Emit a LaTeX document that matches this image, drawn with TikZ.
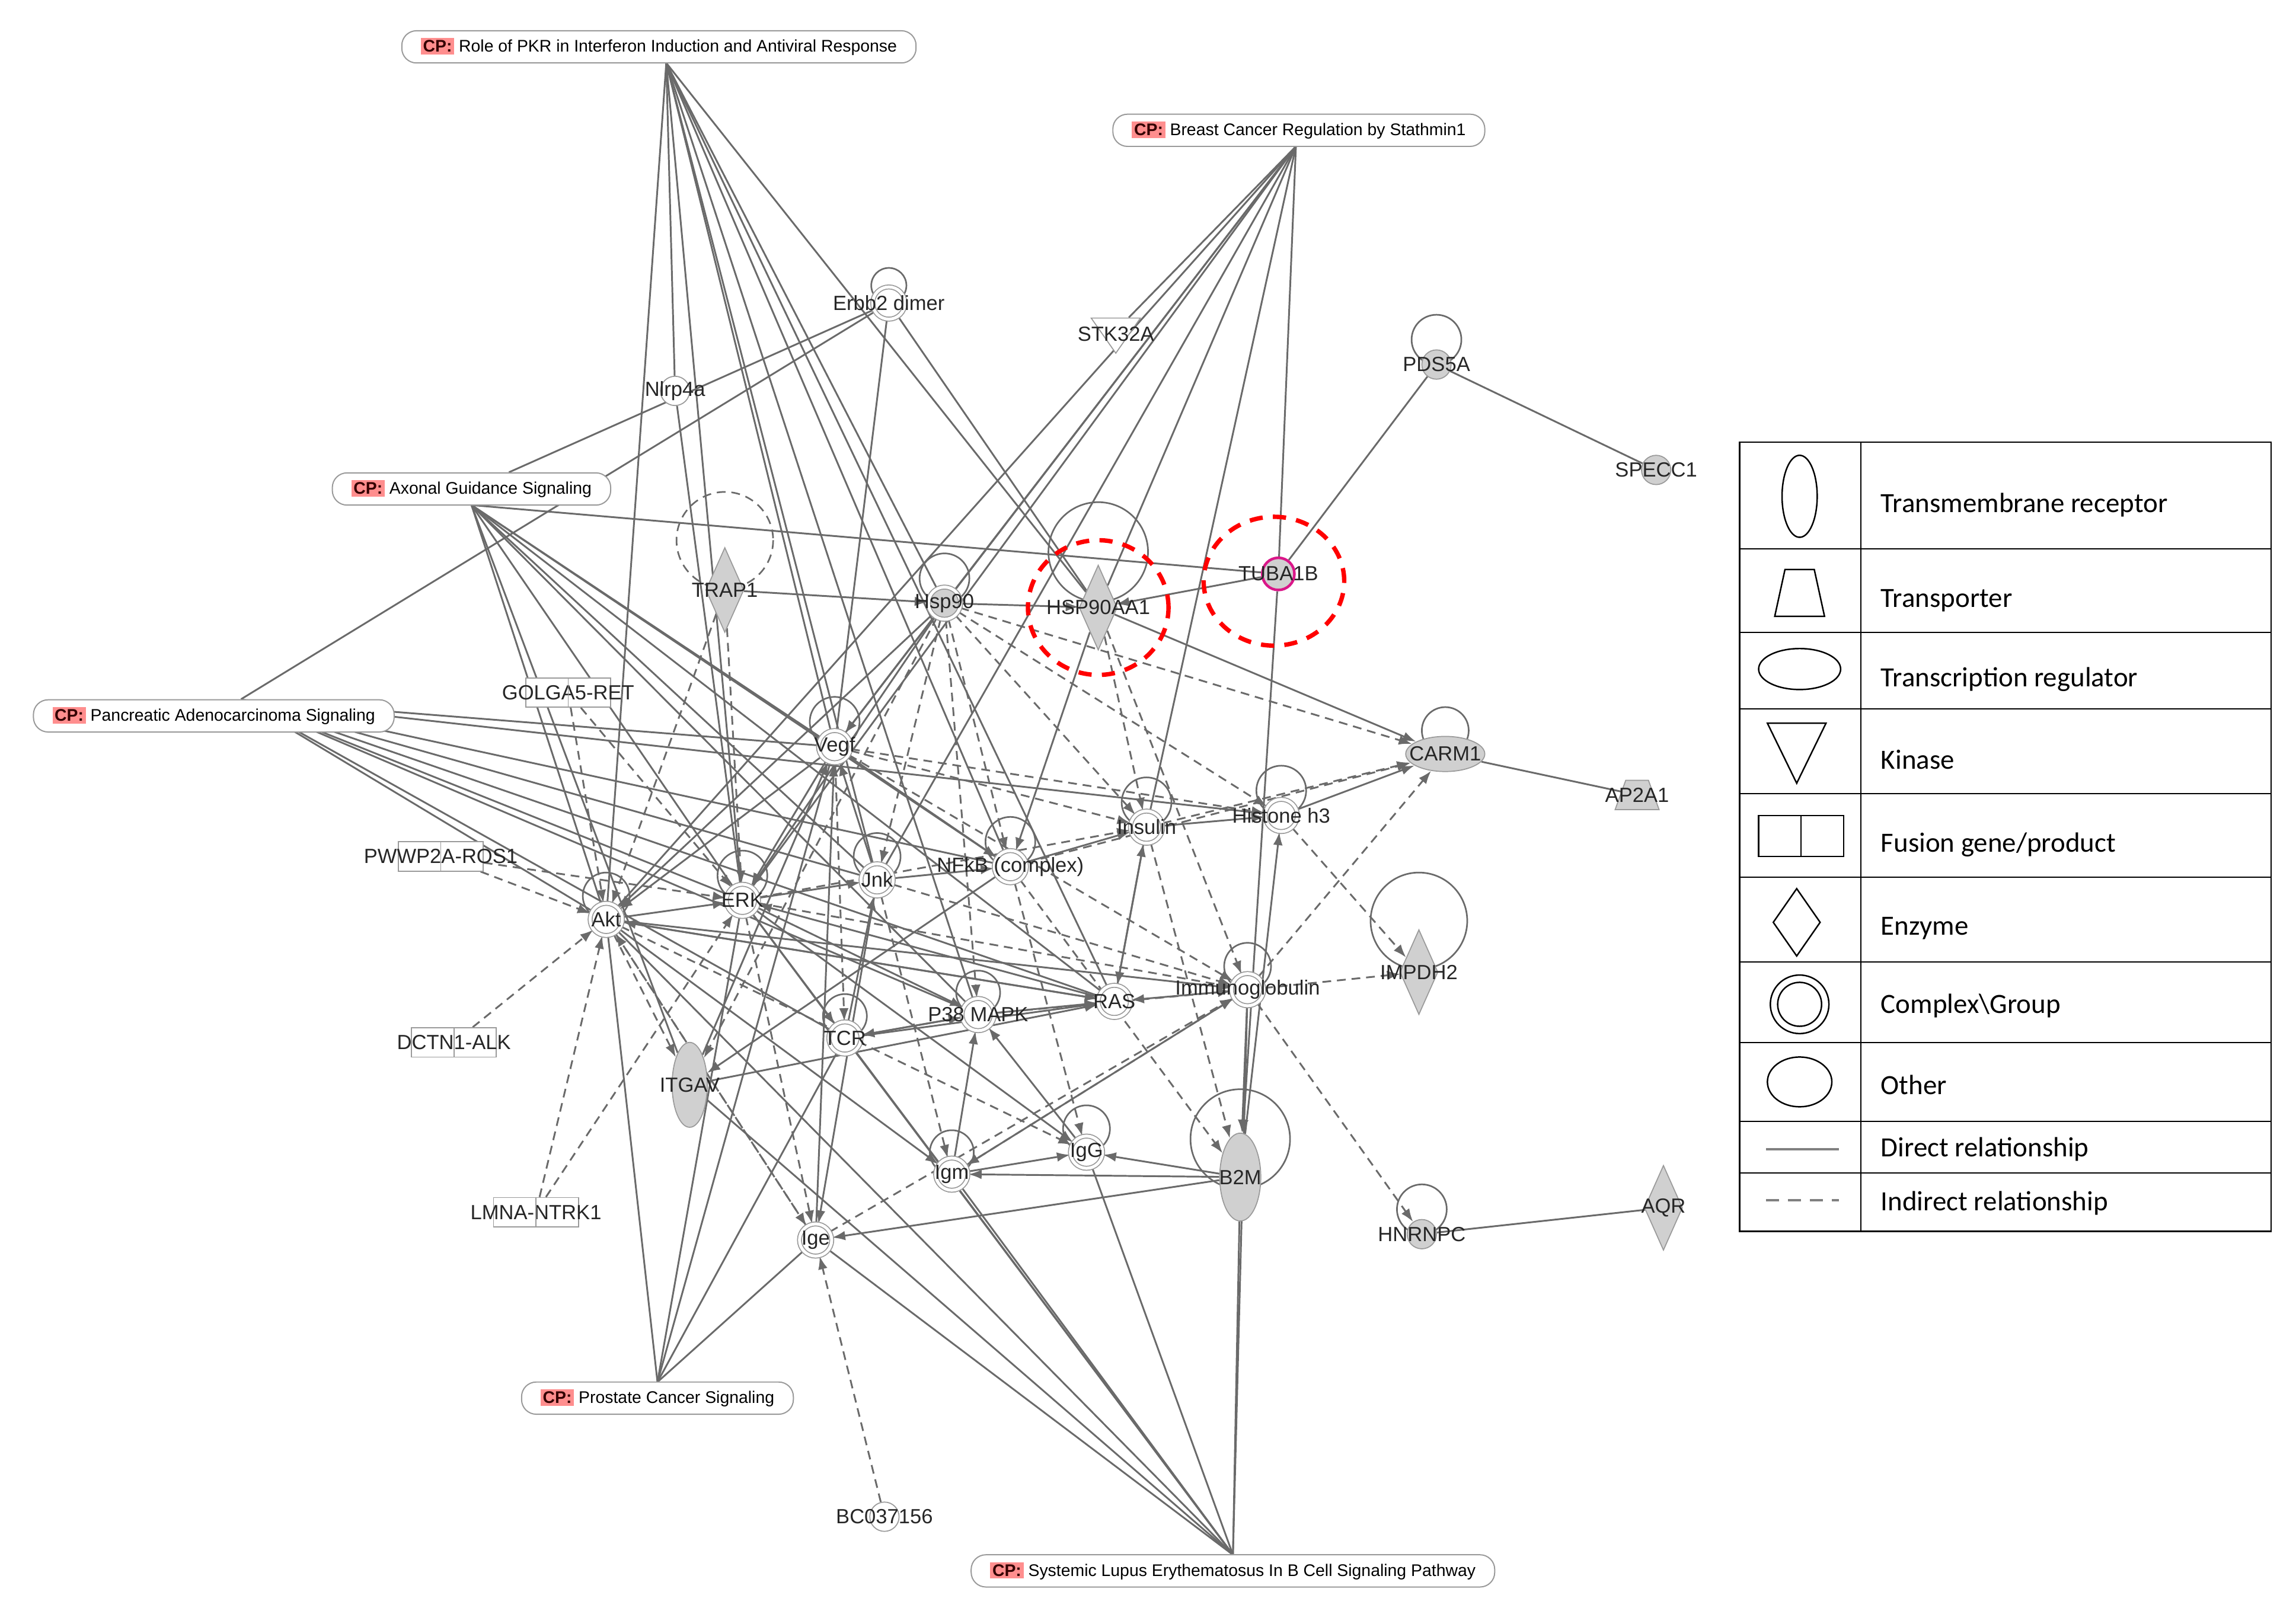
\documentclass[tikz,border=0pt]{standalone}
\usepackage{fontspec}
\setmainfont{Liberation Sans}
\newfontfamily\legf{Carlito}
\usetikzlibrary{shapes.geometric,arrows.meta}
\pgfdeclarelayer{bg}\pgfsetlayers{bg,main}
\definecolor{ec}{HTML}{6A6A6A}
\definecolor{nb}{HTML}{9A9A9A}
\definecolor{gf}{HTML}{D0D0D0}
\definecolor{cpred}{HTML}{FF8E8E}
\newcommand{\cpt}{{\setlength{\fboxsep}{1.5pt}\colorbox{cpred}{\textcolor{black!80!red}{\bfseries CP:}}}\ }
\begin{document}
\begin{tikzpicture}[x=1pt,y=-1pt,
 e/.style={draw=ec,line width=1.2pt},
 d/.style={e,dash pattern=on 6pt off 4pt},
 a/.style={-{Latex[length=9pt,width=6.5pt]}},
 every label/.style={font=\fontsize{14}{14}\selectfont,inner sep=0pt,text=black!85},
 cx/.style={circle,minimum size=22pt,inner sep=0,draw=nb,double=white,double distance=2pt,line width=0.7pt,fill=white},
 gcx/.style={cx,fill=gf},
 oth/.style={circle,minimum size=20pt,inner sep=0,draw=nb,line width=0.7pt,fill=white},
 goth/.style={oth,fill=gf},
 dia/.style={diamond,minimum width=26pt,minimum height=58pt,inner sep=0,draw=nb,fill=gf,line width=0.7pt},
 el/.style={ellipse,inner sep=0,draw=nb,fill=gf,line width=0.7pt},
 fus/.style={rectangle,minimum width=58pt,minimum height=20pt,inner sep=0,draw=nb,fill=white,line width=0.7pt},
 cp/.style={rectangle,rounded corners=10pt,draw=nb,fill=white,line width=0.8pt,minimum height=22pt,inner xsep=13pt,font=\fontsize{11.5}{11.5}\selectfont},
 red/.style={draw=red,line width=3pt,dash pattern=on 9pt off 7pt},
 loop/.style={draw=ec,line width=1.1pt}
]
\useasboundingbox (0,0) rectangle (1568,1098);
% CP nodes
\node[cp] (CP1) at (450,32) {\cpt Role of PKR in Interferon Induction and Antiviral Response};
\node[cp] (CP2) at (887,89) {\cpt Breast Cancer Regulation by Stathmin1};
\node[cp] (CP3) at (322,334) {\cpt Axonal Guidance Signaling};
\node[cp] (CP4) at (146,489) {\cpt Pancreatic Adenocarcinoma Signaling};
\node[cp] (CP5) at (449,955) {\cpt Prostate Cancer Signaling};
\node[cp] (CP6) at (842,1073) {\cpt Systemic Lupus Erythematosus In B Cell Signaling Pathway};
\coordinate (c1) at (455,43);
\coordinate (c2) at (885,100);
\coordinate (c3) at (322,345);
\coordinate (c4) at (165,478);
\coordinate (c5) at (449,944);
\coordinate (c6) at (842,1062);
% molecules
\node[cx,label={center:Erbb2 dimer}] (erbb) at (607,207) {};
\node[oth,label={center:Nlrp4a}] (nlrp) at (461,267) {};
\node[isosceles triangle,shape border rotate=270,isosceles triangle apex angle=70,minimum height=24pt,inner sep=0,draw=nb,fill=white,line width=0.7pt] (stk) at (762,226) {};
\node at (762,228) [font=\fontsize{14}{14}\selectfont,text=black!85] {STK32A};
\node[goth,label={center:PDS5A}] (pds) at (981,249) {};
\node[goth,label={center:SPECC1}] (spe) at (1131,321) {};
\node[goth,draw=magenta!80!violet,line width=1.8pt,minimum size=22pt,label={center:TUBA1B}] (tub) at (873,392) {};
\node[dia,label={center:HSP90AA1}] (hsp1) at (750,415) {};
\node[gcx,label={center:Hsp90}] (hsp) at (645,412) {};
\node[dia,label={center:TRAP1}] (trap) at (495,403) {};
\node[fus,label={center:GOLGA5-RET}] (gol) at (388,473) {};
\node[cx,label={center:Vegf}] (veg) at (570,510) {};
\node[el,minimum width=54pt,minimum height=24pt,label={center:CARM1}] (carm) at (987,515) {};
\node[trapezium,trapezium angle=65,trapezium stretches=true,minimum width=30pt,minimum height=20pt,inner sep=1pt,draw=nb,fill=gf,line width=0.7pt,label={center:AP2A1}] (ap2) at (1118,543) {};
\node[cx,label={center:Insulin}] (ins) at (783,565) {};
\node[cx,label={center:Histone h3}] (his) at (875,557) {};
\node[fus,label={center:PWWP2A-ROS1}] (pww) at (301,585) {};
\node[cx,label={center:Akt}] (akt) at (414,628) {};
\node[cx,label={center:ERK}] (erk) at (507,615) {};
\node[cx,label={center:Jnk}] (jnk) at (599,601) {};
\node[cx,label={center:NFkB (complex)}] (nfk) at (690,592) {};
\node[dia,label={center:IMPDH2}] (imp) at (969,664) {};
\node[cx,label={center:Immunoglobulin}] (imm) at (852,676) {};
\node[cx,label={center:RAS}] (ras) at (761,684) {};
\node[cx,label={center:P38 MAPK}] (p38) at (668,693) {};
\node[cx,label={center:TCR}] (tcr) at (577,709) {};
\node[fus,label={center:DCTN1-ALK}] (dct) at (310,712) {};
\node[el,minimum width=24pt,minimum height=58pt,label={center:ITGAV}] (itg) at (471,741) {};
\node[cx,label={center:IgG}] (igg) at (742,787) {};
\node[cx,label={center:Igm}] (igm) at (650,802) {};
\node[el,minimum width=28pt,minimum height=60pt,label={center:B2M}] (b2m) at (847,804) {};
\node[goth,label={center:HNRNPC}] (hnr) at (971,843) {};
\node[dia,label={center:AQR}] (aqr) at (1136,825) {};
\node[fus,label={center:LMNA-NTRK1}] (lmn) at (366,828) {};
\node[cx,label={center:Ige}] (ige) at (557,847) {};
\node[oth,label={center:BC037156}] (bc) at (604,1036) {};
\foreach \n in {gol,pww,dct,lmn} \draw[nb,line width=0.7pt] (\n.north) -- (\n.south);
\begin{pgfonlayer}{bg}
% CP edges
\foreach \t in {hsp,veg,erk,jnk,nfk,p38,akt,nlrp,hsp1,ras} \draw[e] (c1) -- (\t);
\foreach \t in {hsp,hsp1,tub,erk,veg,jnk,ins,akt,stk} \draw[e] (c2) -- (\t);
\foreach \t in {tub,akt,erk,jnk,nfk,p38,ras,itg,veg} \draw[e] (c3) -- (\t);
\draw[e] (CP3) -- (erbb); \draw[e] (CP4) -- (erbb);
\foreach \t in {veg,akt,erk,jnk,nfk,p38,ras,his,tcr} \draw[e] (c4) -- (\t);
\foreach \t in {akt,erk,ige,tcr,veg} \draw[e] (c5) -- (\t);
\foreach \t in {ige,igm,igg,b2m,imm,tcr,itg,akt,erk} \draw[e] (c6) -- (\t);
% solid molecule edges
\draw[e] (nlrp) -- (erk);
\draw[e] (erbb) -- (hsp1);
\draw[e] (erbb) -- (veg);
\draw[e,a] (trap) -- (hsp);
\draw[e,a] (hsp) -- (hsp1);
\draw[e,a] (tub) -- (hsp1);
\draw[e] (tub) -- (pds);
\draw[e] (pds) -- (spe);
\draw[e] (carm) -- (ap2);
\draw[e] (hnr) -- (aqr);
\draw[e,a] (hsp1) -- (carm);
\draw[e,a] (tub) -- (b2m);
\draw[e,a] (ins) -- (his);
\draw[e,a] (his) -- (carm);
\draw[e,a] (imm) -- (b2m);
\draw[e,a] (b2m) -- (his);
\draw[e,a] (imm) -- (ras);
\draw[e,a] (p38) -- (ras);
\draw[e,a] (tcr) -- (ras);
\draw[e,a] (erk) -- (jnk);
\draw[e,a] (akt) -- (erk);
\draw[e,a] (jnk) -- (nfk);
\draw[e,a] (nfk) -- (ins);
\draw[e,a] (veg) -- (erk);
\draw[e,a] (veg) -- (akt);
\draw[e,a] (hsp) -- (akt);
\draw[e,a] (hsp) -- (erk);
\draw[e,a] (hsp) -- (veg);
\draw[e,a] (hsp1) -- (nfk);
\draw[e,a] (erk) -- (p38);
\draw[e,a] (akt) -- (ras);
\draw[e,a] (akt) -- (imm);
\draw[e,a] (erk) -- (tcr);
\draw[e,a] (ras) -- (erk);
\draw[e,a] (ras) -- (akt);
\draw[e,a] (ras) -- (ins);
\draw[e,a] (ins) -- (ras);
\draw[e,a] (itg) -- (ras);
\draw[e,a] (tcr) -- (jnk);
\draw[e,a] (tcr) -- (p38);
\draw[e,a] (p38) -- (tcr);
\draw[e,a] (igm) -- (igg);
\draw[e,a] (b2m) -- (igg);
\draw[e,a] (b2m) -- (ige);
\draw[e,a] (b2m) -- (igm);
\draw[e,a] (igg) -- (p38);
\draw[e,a] (igm) -- (p38);
\draw[e,a] (ige) -- (veg);
\draw[e,a] (itg) -- (veg);
\draw[e,a] (nfk) -- (itg);
\draw[e,a] (jnk) -- (veg);
\draw[e,a] (veg) -- (nfk);
\draw[e,a] (akt) -- (igm);
\draw[e,a] (erk) -- (igg);
\draw[e,a] (jnk) -- (ige);
\draw[e,a] (imm) -- (igm);
% dashed edges
\draw[d,a] (hsp) -- (ins);
\draw[d,a] (hsp) -- (nfk);
\draw[d,a] (hsp) -- (jnk);
\draw[d,a] (hsp) -- (carm);
\draw[d,a] (hsp) -- (p38);
\draw[d,a] (hsp) -- (itg);
\draw[d,a] (hsp) -- (his);
\draw[d,a] (hsp1) -- (imm);
\draw[d,a] (hsp1) -- (ins);
\draw[d,a] (veg) -- (his);
\draw[d,a] (veg) -- (imm);
\draw[d,a] (veg) -- (ins);
\draw[d,a] (veg) -- (tcr);
\draw[d,a] (dct) -- (akt);
\draw[d,a] (lmn) -- (akt);
\draw[d,a] (lmn) -- (erk);
\draw[d,a] (pww) -- (akt);
\draw[d,a] (pww) -- (erk);
\draw[d,a] (gol) -- (erk);
\draw[d,a] (gol) -- (akt);
\draw[d,a] (bc) -- (ige);
\draw[d,a] (imm) -- (imp);
\draw[d,a] (imm) -- (hnr);
\draw[d,a] (imm) -- (carm);
\draw[d,a] (trap) -- (erk);
\draw[d,a] (trap) -- (akt);
\draw[d,a] (nfk) -- (b2m);
\draw[d,a] (ins) -- (b2m);
\draw[d,a] (akt) -- (ige);
\draw[d,a] (erk) -- (ige);
\draw[d,a] (akt) -- (igg);
\draw[d,a] (erk) -- (imm);
\draw[d,a] (jnk) -- (imm);
\draw[d,a] (p38) -- (imm);
\draw[d,a] (ige) -- (imm);
\draw[d,a] (igm) -- (imm);
\draw[d,a] (ige) -- (akt);
\draw[d,a] (jnk) -- (igm);
\draw[d,a] (nfk) -- (igg);
\draw[d,a] (nfk) -- (carm);
\draw[d,a] (ins) -- (carm);
\draw[d,a] (his) -- (imp);
\draw[d,a] (erk) -- (ins);
\draw[d,a] (akt) -- (itg);
% self loops (circles above the nodes)
\draw[loop] (hsp1) ++(0,-38) circle (34);
\draw[loop,dash pattern=on 6pt off 4pt] (trap) ++(0,-34) circle (33);
\foreach \n/\s in {hsp/17,veg/17,ins/17,his/17,akt/16,erk/17,jnk/16,nfk/17,p38/15,tcr/15,imm/16,igg/16,igm/15,pds/17,hnr/17,carm/16,erbb/12}
  \draw[loop] (\n) ++(0,-\s) circle (\s);
\draw[loop] (imp) ++(0,-35) circle (33);
\draw[loop] (b2m) ++(0,-26) circle (34);
\end{pgfonlayer}
% red highlight circles
\draw[red] (750,415) ellipse (48pt and 46pt);
\draw[red] (870,397) ellipse (48pt and 44pt);
% legend
\begin{scope}[every node/.style={font=\legf\fontsize{19}{19}\selectfont,anchor=west}]
\draw[black,line width=1pt] (1188,302) rectangle (1551,841);
\draw[black,line width=0.8pt] (1271,302) -- (1271,841);
\foreach \y in {375,432,484,542,599,657,712,766,801} \draw[black,line width=0.8pt] (1188,\y) -- (1551,\y);
\node at (1281,345) {Transmembrane receptor};
\node at (1281,410) {Transporter};
\node at (1281,464) {Transcription regulator};
\node at (1281,519) {Kinase};
\node at (1281,577) {Fusion gene/product};
\node at (1281,634) {Enzyme};
\node at (1281,687) {Complex\textbackslash Group};
\node at (1281,741) {Other};
\node at (1281,785) {Direct relationship};
\node at (1281,822) {Indirect relationship};
\end{scope}
\draw[black,line width=1pt] (1229,339) ellipse (12pt and 28pt);
\draw[black,line width=1pt] (1212,421) -- (1246,421) -- (1239,389) -- (1219,389) -- cycle;
\draw[black,line width=1pt] (1229,457) ellipse (28pt and 14pt);
\draw[black,line width=1pt] (1207,494) -- (1247,494) -- (1227,535) -- cycle;
\draw[black,line width=1pt] (1201,557) rectangle (1259,585) (1230,557) -- (1230,585);
\draw[black,line width=1pt] (1227,607) -- (1243,630) -- (1227,653) -- (1211,630) -- cycle;
\draw[black,line width=1pt] (1229,686) circle (20pt) (1229,686) circle (15pt);
\draw[black,line width=1pt] (1229,739) ellipse (22pt and 17pt);
\draw[gray,line width=1.6pt] (1206,785) -- (1256,785);
\draw[gray,line width=1.6pt,dash pattern=on 9pt off 6pt] (1206,820) -- (1256,820);
\end{tikzpicture}
\end{document}
